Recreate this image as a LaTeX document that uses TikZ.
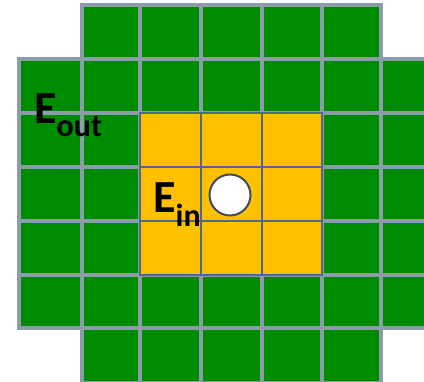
\documentclass[tikz,border=0pt]{standalone}
\usepackage{fontspec}
\setmainfont{Carlito}
\definecolor{cgreen}{RGB}{0,140,0}
\definecolor{cyellow}{RGB}{255,192,0}
\definecolor{cgrid}{RGB}{140,156,170}
\definecolor{cygrid}{RGB}{80,104,140}
\definecolor{ccirc}{RGB}{60,76,100}
\tikzset{
  gcell/.style={fill=cgreen,draw=cgrid,line width=3.2pt},
  ycell/.style={fill=cyellow,draw=cygrid,line width=2.4pt},
  lbl/.style={anchor=base west,inner sep=0pt,font=\bfseries}
}
\begin{document}
\begin{tikzpicture}[x=1pt,y=-1pt]
\clip (0,0) rectangle (424,382);
\fill[white] (0,0) rectangle (424,382);
\def\xs{{19,82,140,201,262,322,381,441}}
\def\ys{{5,59,113,167,221,275,328,383}}
% green cells
\foreach \r in {0,...,6}{
  \foreach \c in {0,...,6}{
    \pgfmathsetmacro{\skip}{((\r==0 || \r==6) && (\c==0 || \c==6)) ? 1 : 0}
    \pgfmathsetmacro{\inner}{(\r>=2 && \r<=4 && \c>=2 && \c<=4) ? 1 : 0}
    \ifdim\skip pt<0.5pt
      \ifdim\inner pt<0.5pt
        \pgfmathsetmacro{\xa}{\xs[\c]}
        \pgfmathsetmacro{\xb}{\xs[\c+1]}
        \pgfmathsetmacro{\ya}{\ys[\r]}
        \pgfmathsetmacro{\yb}{\ys[\r+1]}
        \draw[gcell] (\xa,\ya) rectangle (\xb,\yb);
      \fi
    \fi
  }
}
% yellow cells
\foreach \r in {2,3,4}{
  \foreach \c in {2,3,4}{
    \pgfmathsetmacro{\xa}{\xs[\c]}
    \pgfmathsetmacro{\xb}{\xs[\c+1]}
    \pgfmathsetmacro{\ya}{\ys[\r]}
    \pgfmathsetmacro{\yb}{\ys[\r+1]}
    \draw[ycell] (\xa,\ya) rectangle (\xb,\yb);
  }
}
% particle
\node[circle,fill=white,draw=ccirc,line width=2pt,minimum size=41pt,inner sep=0pt] (p) at (230,195) {};
% labels
\node[lbl] (eout) at (34,124) {\fontsize{46}{46}\selectfont E\fontsize{32}{32}\selectfont\raisebox{-13pt}{out}};
\node[lbl] (ein) at (153,213) {\fontsize{46}{46}\selectfont E\fontsize{32}{32}\selectfont\raisebox{-14pt}{in}};
\end{tikzpicture}
\end{document}
